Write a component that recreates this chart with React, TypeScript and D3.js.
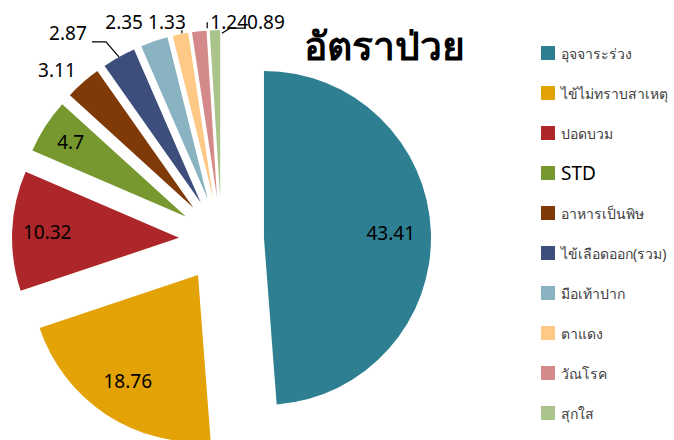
import React from "react";
import * as d3 from "d3";

const categories = [
  "อุจจาระร่วง",
  "ไข้ไม่ทราบสาเหตุ",
  "ปอดบวม",
  "STD",
  "อาหารเป็นพิษ",
  "ไข้เลือดออก(รวม)",
  "มือเท้าปาก",
  "ตาแดง",
  "วัณโรค",
  "สุกใส",
];
const values = [43.41, 18.76, 10.32, 4.7, 3.11, 2.87, 2.35, 1.33, 1.24, 0.89];
const colors = [
  "#2E7F92",
  "#E3A206",
  "#AD262A",
  "#76982E",
  "#7F3A07",
  "#3E4E7C",
  "#8AB3C2",
  "#FDC985",
  "#D48A8A",
  "#AAC48B",
];
const title = "อัตราป่วย";

// layout (not data)
const W = 674;
const H = 440;
const cx = 221.5;
const cy = 239.6;
const R = 167;
const explode = 42.5;
const labelLayout: { inside?: number; dx?: number; dy?: number }[] = [
  { inside: 0.76 },
  { inside: 0.76 },
  { inside: 0.79 },
  { inside: 0.82 },
  { dx: -26, dy: -12 },
  { dx: -51, dy: -24 },
  { dx: -30, dy: -19 },
  { dx: -13.5, dy: -12 },
  { dx: 30, dy: -9.5 },
  { dx: 51, dy: -8 },
];

export default function App() {
  const pie = d3
    .pie<number>()
    .sort(null)
    .value((d) => d)
    .startAngle(0)
    .endAngle(2 * Math.PI);
  const arcs = pie(values);
  const arcGen = d3.arc<d3.PieArcDatum<number>>().innerRadius(0).outerRadius(R);

  const dir = (a: number) => [Math.sin(a), -Math.cos(a)];

  return (
    <svg
      width={W}
      height={H}
      style={{ position: "absolute", left: 0, top: 0, background: "#fff" }}
    >
      <g>
        {arcs.map((a, i) => {
          const mid = (a.startAngle + a.endAngle) / 2;
          const [ux, uy] = dir(mid);
          const ax = cx + explode * ux;
          const ay = cy + explode * uy;
          return (
            <path
              key={i}
              d={arcGen(a) || ""}
              transform={`translate(${ax},${ay})`}
              fill={colors[i]}
            />
          );
        })}
      </g>
      <g fontFamily="'Noto Sans', 'Open Sans', sans-serif" fontSize={19} fill="#000">
        {arcs.map((a, i) => {
          const mid = (a.startAngle + a.endAngle) / 2;
          const [ux, uy] = dir(mid);
          const ax = cx + explode * ux;
          const ay = cy + explode * uy;
          const L = labelLayout[i];
          let lx: number, ly: number;
          if (L.inside !== undefined) {
            lx = ax + R * L.inside * ux;
            ly = ay + R * L.inside * uy;
          } else {
            lx = ax + R * ux + (L.dx || 0);
            ly = ay + R * uy + (L.dy || 0);
          }
          return (
            <text key={i} x={lx} y={ly} textAnchor="middle" dominantBaseline="central">
              {values[i]}
            </text>
          );
        })}
      </g>
      <g stroke="#000" strokeWidth={1.2} fill="none">
        {arcs.map((a, i) => {
          const mid = (a.startAngle + a.endAngle) / 2;
          const [ux, uy] = dir(mid);
          const px = cx + explode * ux + R * ux;
          const py = cy + explode * uy + R * uy;
          if (i === 5) {
            return (
              <polyline key={i} points={`${px},${py} ${px - 13},${py - 15} ${px - 27},${py - 15}`} />
            );
          }
          if (i === 7) {
            return <line key={i} x1={px + 1.5} y1={py - 1} x2={px + 1.5} y2={py - 4} />;
          }
          if (i === 8) {
            return <line key={i} x1={px + 8} y1={py - 3} x2={px + 8} y2={py - 9} />;
          }
          if (i === 9) {
            return (
              <polyline key={i} points={`${px + 7},${py + 3} ${px + 15},${py - 2} ${px + 30},${py - 2}`} />
            );
          }
          return null;
        })}
      </g>
      <text
        x={384}
        y={60}
        textAnchor="middle"
        fontFamily="'Noto Sans', sans-serif"
        fontWeight="bold"
        fontSize={39}
        fill="#000"
      >
        {title}
      </text>
      <g>
        {categories.map((c, i) => {
          const y = 53 + i * 40;
          return (
            <g key={i}>
              <rect x={541} y={y - 7} width={14} height={14} fill={colors[i]} />
              <text
                x={561}
                y={y}
                dominantBaseline="central"
                fontFamily="'Noto Sans', sans-serif"
                fontSize={c === "STD" ? 19 : 14}
                fill={c === "STD" ? "#000" : "#404040"}
              >
                {c}
              </text>
            </g>
          );
        })}
      </g>
    </svg>
  );
}
